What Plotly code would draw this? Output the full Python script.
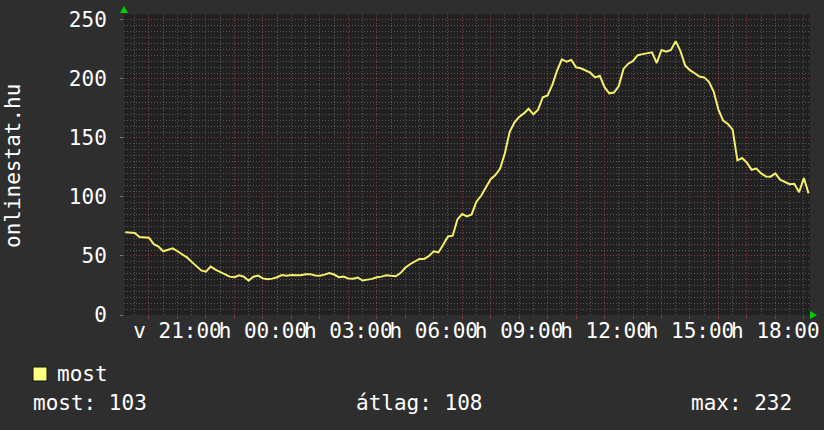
import plotly.graph_objects as go
import pandas as pd

# ---------------- data ----------------
series_name = "most"
start_time = "2013-03-10 19:10"   # Sunday evening
step = "10min"
values = [
    70, 69.5, 69.5, 66, 65.5, 65.5, 60, 58, 54, 55.3, 56.5, 54,
    51.7, 48.8, 45, 41, 37.8, 36.7, 41, 38.5, 36.6, 34.7, 32.5, 32,
    33.6, 32.4, 29, 32.4, 33.4, 31, 30.2, 30.8, 32, 33.9, 33.3, 33.9,
    33.5, 33.6, 34.5, 34.6, 33.5, 33.3, 34.2, 35.6, 34.3, 32, 32.5, 31,
    30.8, 31.8, 29.2, 29.8, 30.6, 32, 32.5, 33.7, 33.1, 32.8, 35.5, 40,
    43, 45.6, 47.5, 47.5, 50, 54, 53, 59.5, 66.5, 67.2, 81, 85.5,
    83.6, 85.2, 96, 101, 108, 115, 118.5, 124, 137, 155, 163, 167.8,
    170.8, 174.7, 170, 174, 184.5, 186, 195, 207, 216.5, 214.6, 216, 209.8,
    209, 206.8, 205.3, 201.3, 202.7, 193, 187.8, 188.5, 194, 208.5, 212.9, 215.2,
    220.1, 221, 221.6, 222.5, 213.5, 224.5, 223, 224.5, 232, 223.5, 211.3, 207.4,
    204.8, 202, 201.3, 197.5, 189.3, 174, 164.7, 161.8, 157, 131, 133, 129,
    123, 124, 120, 117.4, 117.2, 120, 114.7, 112.7, 110.8, 111.2, 104, 116,
    103,
]

x_range = ["2013-03-10 19:07:20", "2013-03-11 19:13:00"]
grid_hours_start = "2013-03-10 20:00"
grid_hours_end = "2013-03-11 19:00"
tick_times = [
    "2013-03-10 21:00", "2013-03-11 00:00", "2013-03-11 03:00", "2013-03-11 06:00",
    "2013-03-11 09:00", "2013-03-11 12:00", "2013-03-11 15:00", "2013-03-11 18:00",
]
tick_labels = ["v 21:00", "h 00:00", "h 03:00", "h 06:00",
               "h 09:00", "h 12:00", "h 15:00", "h 18:00"]

y_ticks = [0, 50, 100, 150, 200, 250]
y_range = [0, 255]
y_axis_title = "onlinestat.hu"

stat_labels = ["most", "átlag", "max"]
stat_values = [103, 108, 232]

# ---------------- styling ----------------
FONT = "DejaVu Sans Mono"
PAPER = "#2e2e2e"
PLOT = "#212121"
MAJOR = "#8a3a3a"
MINOR = "#585858"
LINE = "#f4ef6c"
ARROW = "#00d000"

times = pd.date_range(start_time, periods=len(values), freq=step)
hour_ticks = pd.date_range(grid_hours_start, grid_hours_end, freq="1h")
label_map = {pd.Timestamp(t): l for t, l in zip(tick_times, tick_labels)}
hour_text = [label_map.get(t, "") for t in hour_ticks]

fig = go.Figure()
fig.add_trace(go.Scatter(
    x=times, y=values, mode="lines", name=series_name,
    line=dict(color=LINE, width=2), showlegend=False,
))

fig.update_layout(
    width=824, height=430,
    margin=dict(l=124, r=14, t=14, b=115, autoexpand=False),
    paper_bgcolor=PAPER, plot_bgcolor=PLOT,
    font=dict(family=FONT, size=21, color="#ffffff"),
    showlegend=False,
)

fig.update_xaxes(
    type="date", range=x_range, tickmode="array",
    tickvals=list(hour_ticks), ticktext=hour_text, tickangle=0,
    showgrid=True, gridcolor=MAJOR, griddash="1px,2px", gridwidth=1,
    ticks="outside", ticklen=3, tickcolor=MAJOR,
    tickfont=dict(family=FONT, size=21, color="#ffffff"),
    ticklabelstandoff=-6,
    minor=dict(dtick=30 * 60 * 1000, tick0="2013-03-10 19:30",
               showgrid=True, gridcolor=MINOR, griddash="1px,2px", gridwidth=1),
    zeroline=False, showline=False, automargin=False,
)
fig.update_yaxes(
    range=y_range, tickmode="array", tickvals=y_ticks,
    showgrid=True, gridcolor=MAJOR, griddash="1px,2px", gridwidth=1,
    ticks="outside", ticklen=3, tickcolor="#777777",
    tickfont=dict(family=FONT, size=21, color="#ffffff"),
    ticklabelstandoff=9,
    minor=dict(dtick=5, showgrid=True, gridcolor=MINOR, griddash="1px,2px", gridwidth=1),
    zeroline=False, showline=False, automargin=False,
)

# pixel -> paper helpers (plot area 124..810 x 14..315)
def px(X):
    return (X - 124) / 686.0

def py(Y):
    return (315 - Y) / 301.0

shapes = [
    # green axis arrows
    dict(type="path", xref="paper", yref="paper",
         path=f"M {px(124)},{py(6)} L {px(120)},{py(13)} L {px(128)},{py(13)} Z",
         fillcolor=ARROW, line=dict(width=0)),
    dict(type="path", xref="paper", yref="paper",
         path=f"M {px(817)},{py(315)} L {px(810)},{py(311)} L {px(810)},{py(319)} Z",
         fillcolor=ARROW, line=dict(width=0)),
    # legend swatch
    dict(type="rect", xref="paper", yref="paper",
         x0=px(33), x1=px(47), y0=py(381), y1=py(367),
         fillcolor="#ffff80", line=dict(color="#111111", width=1)),
]
fig.update_layout(shapes=shapes)

annotations = [
    dict(text=y_axis_title, xref="paper", yref="paper", x=px(13), y=py(166),
         textangle=-90, showarrow=False, xanchor="center", yanchor="middle",
         font=dict(family=FONT, size=21, color="#ffffff")),
    dict(text=series_name, xref="paper", yref="paper", x=px(55), y=py(374),
         showarrow=False, xanchor="left", yanchor="middle",
         font=dict(family=FONT, size=21, color="#ffffff")),
    dict(text=f"{stat_labels[0]}: {stat_values[0]}", xref="paper", yref="paper",
         x=px(31), y=py(403), showarrow=False, xanchor="left", yanchor="middle",
         font=dict(family=FONT, size=21, color="#ffffff")),
    dict(text=f"{stat_labels[1]}: {stat_values[1]}", xref="paper", yref="paper",
         x=px(354), y=py(403), showarrow=False, xanchor="left", yanchor="middle",
         font=dict(family=FONT, size=21, color="#ffffff")),
    dict(text=f"{stat_labels[2]}: {stat_values[2]}", xref="paper", yref="paper",
         x=px(794), y=py(403), showarrow=False, xanchor="right", yanchor="middle",
         font=dict(family=FONT, size=21, color="#ffffff")),
]
fig.update_layout(annotations=annotations)

fig.write_html(
    "out.html",
    config={"displayModeBar": False},
    post_script="document.body.style.margin='0';document.body.style.background='#2e2e2e';",
)
